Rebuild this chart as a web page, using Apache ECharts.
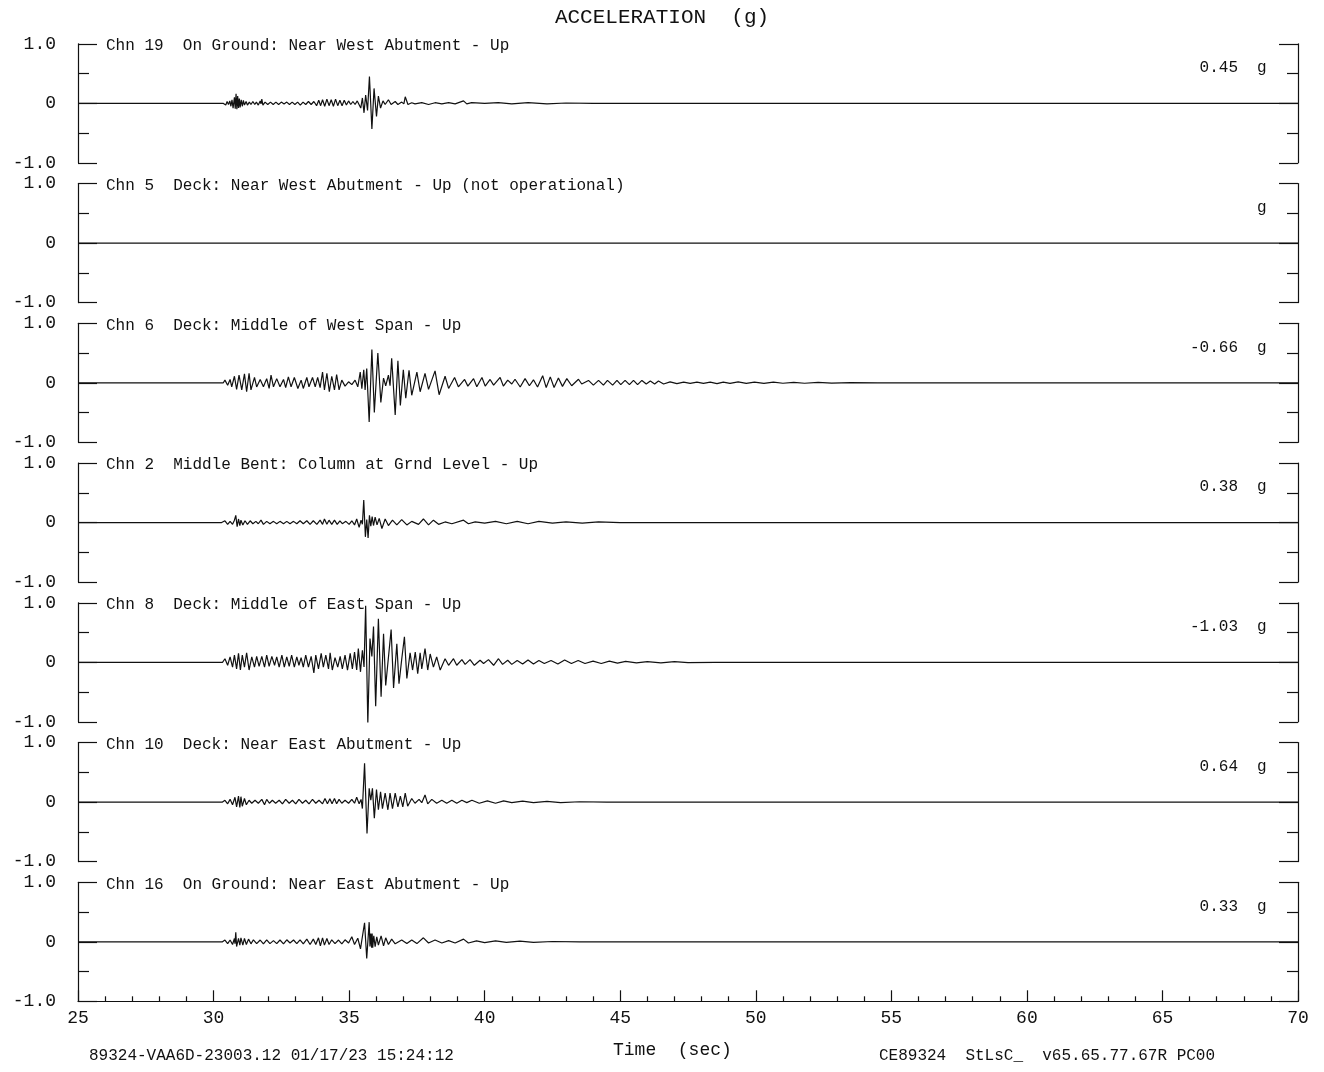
<!DOCTYPE html>
<html><head><meta charset="utf-8">
<script src="https://cdn.jsdelivr.net/npm/echarts@6/dist/echarts.min.js"></script>
<style>html,body{margin:0;padding:0;background:#fff}#c{width:1324px;height:1072px}</style>
</head><body><div id="c"></div><script>
const titleText = 'ACCELERATION  (g)';
const xAxisName = 'Time  (sec)';
const footerLeft = '89324-VAA6D-23003.12 01/17/23 15:24:12';
const footerRight = 'CE89324  StLsC_  v65.65.77.67R PC00';
const xMin = 25, xMax = 70, xStep = 5;
const channelLabels = [
  'Chn 19  On Ground: Near West Abutment - Up',
  'Chn 5  Deck: Near West Abutment - Up (not operational)',
  'Chn 6  Deck: Middle of West Span - Up',
  'Chn 2  Middle Bent: Column at Grnd Level - Up',
  'Chn 8  Deck: Middle of East Span - Up',
  'Chn 10  Deck: Near East Abutment - Up',
  'Chn 16  On Ground: Near East Abutment - Up'
];
const peakLabels = ['0.45', '', '-0.66', '0.38', '-1.03', '0.64', '0.33'];

const chn19 = [[25,0],[30.35,0],[30.40,0.02],[30.45,-0.03],[30.50,0.03],[30.55,-0.02],[30.60,0.04],[30.64,-0.05],[30.68,0.06],[30.72,-0.08],[30.77,0.10],[30.80,-0.09],[30.83,0.16],[30.86,-0.10],[30.89,0.12],[30.92,-0.08],[30.95,0.08],[30.98,-0.07],[31.02,0.06],[31.06,-0.05],[31.10,0.05],[31.14,-0.03],[31.20,0.03],[31.25,-0.03],[31.32,0.02],[31.38,-0.02],[31.45,0.03],[31.52,-0.02],[31.58,0.02],[31.65,-0.03],[31.72,0.04],[31.75,-0.01],[31.78,0.07],[31.82,-0.03],[31.90,0.02],[32.00,-0.02],[32.10,0.02],[32.20,-0.02],[32.30,0.02],[32.40,-0.02],[32.50,0.02],[32.60,-0.01],[32.70,0.02],[32.80,-0.02],[32.90,0.02],[33.00,-0.02],[33.10,0.02],[33.20,-0.03],[33.30,0.02],[33.40,-0.02],[33.50,0.03],[33.60,-0.02],[33.70,0.03],[33.80,-0.04],[33.88,0.05],[33.95,-0.04],[34.02,0.06],[34.10,-0.05],[34.18,0.07],[34.26,-0.04],[34.34,0.06],[34.42,-0.05],[34.50,0.07],[34.58,-0.04],[34.66,0.05],[34.74,-0.04],[34.82,0.05],[34.90,-0.03],[34.98,0.04],[35.06,-0.02],[35.14,0.03],[35.22,-0.02],[35.30,0.04],[35.43,-0.08],[35.49,0.09],[35.55,-0.16],[35.61,0.14],[35.68,-0.12],[35.75,0.45],[35.84,-0.43],[35.92,0.25],[36.01,-0.22],[36.08,0.12],[36.16,-0.08],[36.25,0.04],[36.33,-0.02],[36.45,0.06],[36.55,-0.02],[36.70,0.03],[36.80,-0.02],[36.94,0.02],[37.02,-0.01],[37.07,0.11],[37.17,-0.02],[37.31,0.01],[37.43,-0.01],[37.68,0.01],[37.93,-0.02],[38.17,0.01],[38.42,-0.01],[38.67,0.01],[38.91,-0.01],[39.22,0.04],[39.34,-0.01],[39.52,0.01],[40.0,0],[40.5,0.01],[41.0,-0.01],[41.6,0.01],[42.3,-0.01],[43.0,0.005],[44.0,0],[70,0]];

const chn5 = [[25,0],[70,0]];

const chn6 = [[25,0],[30.36,0],[30.42,0.045],[30.52,-0.04],[30.61,0.056],[30.67,-0.067],[30.77,0.11],[30.85,-0.11],[30.94,0.13],[31.04,-0.12],[31.14,0.15],[31.22,-0.15],[31.31,0.16],[31.38,-0.12],[31.51,0.09],[31.59,-0.07],[31.72,0.056],[31.84,-0.067],[31.96,0.07],[32.05,-0.095],[32.12,0.13],[32.21,-0.067],[32.33,0.07],[32.45,-0.067],[32.58,0.056],[32.66,-0.08],[32.76,0.10],[32.86,-0.067],[32.98,0.09],[33.11,-0.095],[33.23,0.045],[33.31,-0.095],[33.44,0.09],[33.52,-0.067],[33.65,0.09],[33.75,-0.067],[33.84,0.09],[33.93,-0.08],[34.02,0.18],[34.09,-0.12],[34.18,0.16],[34.27,-0.15],[34.36,0.11],[34.46,-0.12],[34.54,0.14],[34.63,-0.12],[34.73,0.045],[34.85,-0.056],[34.98,0.017],[35.10,-0.03],[35.22,0.045],[35.32,-0.067],[35.41,0.18],[35.47,-0.10],[35.54,0.22],[35.59,-0.12],[35.65,0.24],[35.74,-0.66],[35.84,0.56],[35.93,-0.50],[36.06,0.50],[36.17,-0.33],[36.27,0.08],[36.35,-0.05],[36.45,0.13],[36.51,-0.05],[36.57,0.41],[36.70,-0.54],[36.80,0.37],[36.89,-0.38],[37.00,0.22],[37.09,-0.26],[37.21,0.21],[37.31,-0.21],[37.50,0.18],[37.62,-0.15],[37.80,0.16],[37.93,-0.11],[38.17,0.20],[38.32,-0.20],[38.54,0.11],[38.67,-0.095],[38.89,0.09],[39.03,-0.067],[39.26,0.056],[39.38,-0.056],[39.59,0.07],[39.71,-0.067],[39.90,0.09],[40.02,-0.056],[40.20,0.056],[40.33,-0.04],[40.57,0.09],[40.69,-0.056],[40.85,0.045],[41.00,-0.02],[41.12,0.06],[41.31,-0.07],[41.49,0.07],[41.65,-0.05],[41.80,0.05],[41.95,-0.07],[42.14,0.12],[42.27,-0.08],[42.42,0.10],[42.56,-0.08],[42.72,0.08],[42.87,-0.06],[43.03,0.07],[43.21,-0.05],[43.46,0.06],[43.58,-0.02],[43.83,0.04],[44.01,-0.04],[44.20,0.04],[44.38,-0.04],[44.53,0.04],[44.72,-0.04],[44.88,0.04],[45.02,-0.03],[45.18,0.04],[45.34,-0.03],[45.49,0.04],[45.64,-0.03],[45.80,0.04],[45.96,-0.02],[46.11,0.03],[46.27,-0.02],[46.41,0.03],[46.60,-0.02],[46.84,0.015],[47.09,-0.015],[47.34,0.01],[47.58,-0.01],[47.83,0.012],[48.07,-0.01],[48.32,0.01],[48.57,-0.015],[48.80,0.01],[49.05,-0.01],[49.35,0.015],[49.65,-0.01],[49.95,0.01],[50.3,-0.01],[50.65,0.01],[51.0,-0.008],[51.4,0.008],[51.8,-0.008],[52.3,0.006],[52.8,-0.006],[53.5,0.004],[54.5,0],[70,0]];

const chn2 = [[25,0],[30.30,0],[30.42,0.03],[30.52,-0.03],[30.61,0.02],[30.70,-0.03],[30.77,0.04],[30.82,0.12],[30.87,-0.07],[30.92,0.06],[30.97,-0.05],[31.01,0.04],[31.08,-0.04],[31.16,0.03],[31.25,-0.03],[31.35,0.03],[31.45,-0.02],[31.56,0.02],[31.65,-0.02],[31.75,0.04],[31.84,-0.03],[31.96,0.02],[32.08,-0.02],[32.21,0.02],[32.33,-0.02],[32.45,0.02],[32.58,-0.02],[32.70,0.02],[32.82,-0.02],[32.95,0.02],[33.07,-0.02],[33.19,0.03],[33.31,-0.02],[33.44,0.03],[33.56,-0.03],[33.68,0.03],[33.81,-0.03],[33.93,0.04],[34.02,-0.03],[34.09,0.06],[34.18,-0.03],[34.26,0.04],[34.36,-0.03],[34.46,0.04],[34.56,-0.03],[34.66,0.03],[34.75,-0.02],[34.88,0.02],[35.00,-0.03],[35.10,0.03],[35.20,-0.04],[35.28,0.06],[35.37,-0.08],[35.44,0.04],[35.49,-0.03],[35.54,0.38],[35.60,-0.24],[35.65,0.05],[35.70,-0.26],[35.75,0.12],[35.80,-0.06],[35.85,0.10],[35.90,-0.05],[35.96,0.09],[36.03,-0.04],[36.11,0.07],[36.21,-0.10],[36.33,0.06],[36.45,-0.05],[36.60,0.04],[36.76,-0.04],[36.94,0.05],[37.13,-0.04],[37.31,0.02],[37.56,-0.03],[37.74,0.06],[37.93,-0.04],[38.11,0.04],[38.30,-0.03],[38.54,0.01],[38.79,-0.02],[39.22,0.04],[39.40,-0.02],[39.65,0.01],[40.0,-0.01],[40.4,0.02],[40.8,-0.02],[41.2,0.02],[41.6,-0.02],[42.0,0.02],[42.5,-0.01],[43.0,0.01],[43.6,-0.01],[44.2,0.01],[45.0,0],[70,0]];

const chn8 = [[25,0],[30.33,0],[30.42,0.06],[30.52,-0.05],[30.61,0.09],[30.70,-0.08],[30.77,0.12],[30.85,-0.11],[30.92,0.15],[30.99,-0.13],[31.06,0.12],[31.14,-0.08],[31.22,0.16],[31.31,-0.13],[31.41,0.09],[31.51,-0.08],[31.59,0.10],[31.68,-0.07],[31.78,0.10],[31.88,-0.08],[31.96,0.12],[32.05,-0.07],[32.15,0.10],[32.25,-0.05],[32.33,0.09],[32.42,-0.08],[32.52,0.12],[32.61,-0.08],[32.70,0.09],[32.79,-0.07],[32.88,0.12],[32.98,-0.08],[33.07,0.09],[33.15,-0.05],[33.23,0.08],[33.31,-0.08],[33.40,0.12],[33.50,-0.08],[33.60,0.10],[33.70,-0.18],[33.77,0.12],[33.87,-0.11],[33.97,0.15],[34.05,-0.08],[34.14,0.12],[34.24,-0.11],[34.30,0.16],[34.38,-0.13],[34.48,0.08],[34.58,-0.08],[34.67,0.10],[34.75,-0.11],[34.85,0.12],[34.94,-0.13],[35.04,0.15],[35.12,-0.11],[35.20,0.17],[35.28,-0.13],[35.34,0.23],[35.42,-0.16],[35.49,0.20],[35.55,-0.08],[35.61,0.95],[35.69,-1.03],[35.77,0.40],[35.84,0.10],[35.90,0.60],[35.98,-0.74],[36.08,0.73],[36.18,-0.58],[36.27,0.48],[36.35,-0.39],[36.55,0.55],[36.64,-0.43],[36.76,0.31],[36.84,-0.36],[36.94,0.05],[37.04,0.43],[37.13,-0.27],[37.25,0.16],[37.34,-0.13],[37.44,0.17],[37.53,-0.19],[37.62,0.16],[37.68,-0.11],[37.80,0.23],[37.90,-0.13],[37.99,0.14],[38.11,-0.08],[38.23,0.09],[38.36,-0.13],[38.54,0.06],[38.67,-0.05],[38.85,0.06],[38.97,-0.05],[39.16,0.045],[39.28,-0.035],[39.46,0.045],[39.62,-0.05],[39.83,0.035],[39.96,-0.02],[40.14,0.045],[40.33,-0.05],[40.51,0.06],[40.66,-0.035],[40.85,0.035],[41.00,-0.035],[41.2,0.03],[41.4,-0.03],[41.6,0.04],[41.8,-0.03],[42.0,0.03],[42.2,-0.02],[42.45,0.03],[42.7,-0.03],[42.95,0.04],[43.2,-0.02],[43.45,0.03],[43.7,-0.02],[44.0,0.02],[44.3,-0.02],[44.6,0.02],[44.9,-0.015],[45.2,0.015],[45.6,-0.01],[46.0,0.01],[46.5,-0.01],[47.0,0.01],[47.5,-0.005],[48.5,0],[70,0]];

const chn10 = [[25,0],[30.33,0],[30.42,0.03],[30.52,-0.03],[30.61,0.045],[30.70,-0.045],[30.79,0.08],[30.85,-0.08],[30.92,0.10],[30.97,-0.09],[31.01,0.09],[31.06,-0.07],[31.14,0.06],[31.21,-0.045],[31.31,0.03],[31.41,-0.02],[31.53,0.03],[31.65,-0.02],[31.78,0.045],[31.88,-0.045],[31.96,0.045],[32.06,-0.02],[32.17,0.03],[32.29,-0.02],[32.42,0.03],[32.54,-0.03],[32.66,0.045],[32.79,-0.02],[32.91,0.03],[33.03,-0.03],[33.15,0.045],[33.28,-0.02],[33.40,0.03],[33.52,-0.03],[33.65,0.045],[33.77,-0.02],[33.89,0.03],[34.02,-0.03],[34.11,0.06],[34.20,-0.03],[34.29,0.056],[34.37,-0.03],[34.46,0.06],[34.54,-0.03],[34.63,0.045],[34.73,-0.02],[34.85,0.03],[34.98,-0.02],[35.10,0.045],[35.20,-0.02],[35.28,0.08],[35.37,-0.03],[35.44,0.045],[35.49,-0.11],[35.57,0.65],[35.66,-0.53],[35.74,0.23],[35.80,0.03],[35.86,0.23],[35.93,-0.27],[36.01,0.21],[36.08,-0.13],[36.16,0.17],[36.23,-0.11],[36.33,0.15],[36.43,-0.13],[36.51,0.15],[36.60,-0.11],[36.70,0.15],[36.80,-0.08],[36.89,0.10],[36.98,-0.08],[37.07,0.15],[37.16,-0.07],[37.31,0.06],[37.43,-0.02],[37.58,0.045],[37.68,-0.01],[37.80,0.12],[37.90,-0.03],[38.05,0.045],[38.23,-0.02],[38.42,0.03],[38.60,-0.02],[38.79,0.03],[38.97,-0.02],[39.16,0.03],[39.34,-0.01],[39.53,0.03],[39.8,-0.02],[40.1,0.02],[40.4,-0.02],[40.7,0.02],[41.0,-0.01],[41.4,0.015],[41.8,-0.01],[42.3,0.01],[42.8,-0.01],[43.5,0.005],[44.5,0],[70,0]];

const chn16 = [[25,0],[30.33,0],[30.42,0.03],[30.52,-0.03],[30.61,0.03],[30.70,-0.045],[30.77,0.056],[30.79,-0.03],[30.82,0.16],[30.85,-0.08],[30.92,0.056],[30.97,-0.056],[31.01,0.067],[31.08,-0.056],[31.14,0.056],[31.21,-0.045],[31.29,0.045],[31.38,-0.034],[31.47,0.034],[31.59,-0.03],[31.72,0.03],[31.84,-0.034],[31.96,0.034],[32.08,-0.03],[32.21,0.02],[32.33,-0.03],[32.45,0.03],[32.58,-0.034],[32.70,0.034],[32.82,-0.02],[32.95,0.03],[33.07,-0.03],[33.19,0.034],[33.31,-0.034],[33.44,0.045],[33.56,-0.045],[33.68,0.045],[33.77,-0.045],[33.87,0.067],[33.94,-0.067],[34.02,0.067],[34.09,-0.056],[34.18,0.056],[34.26,-0.045],[34.36,0.034],[34.48,-0.03],[34.61,0.03],[34.73,-0.034],[34.85,0.034],[34.98,-0.02],[35.10,0.084],[35.20,-0.045],[35.32,0.06],[35.42,-0.12],[35.57,0.32],[35.65,-0.28],[35.74,0.33],[35.77,-0.08],[35.80,0.14],[35.83,-0.10],[35.85,0.14],[35.87,-0.10],[35.91,0.10],[35.96,-0.08],[36.02,0.084],[36.08,-0.056],[36.18,0.10],[36.27,-0.067],[36.35,0.067],[36.45,-0.045],[36.57,0.045],[36.70,-0.034],[36.94,0.03],[37.13,-0.03],[37.31,0.03],[37.50,-0.03],[37.74,0.067],[37.93,-0.02],[38.17,0.03],[38.42,-0.02],[38.67,0.02],[38.91,-0.02],[39.22,0.045],[39.40,-0.02],[39.7,0.015],[40.0,-0.015],[40.4,0.015],[40.8,-0.01],[41.3,0.01],[41.8,-0.01],[42.5,0.005],[43.5,0],[70,0]];

const traces = [chn19, chn5, chn6, chn2, chn8, chn10, chn16];

const FONT = 'Liberation Mono';
const INK = '#111';
const gridLeft = 78, gridWidth = 1220, firstTop = 43.8, pitch = 139.75, panelH = 119;
const n = traces.length;
const grids = [], xAxes = [], yAxes = [], series = [], graphics = [];

for (let k = 0; k < n; k++) {
  const top = firstTop + pitch * k;
  grids.push({ left: gridLeft, top: top, width: gridWidth, height: panelH });
  const last = k === n - 1;
  xAxes.push({
    type: 'value', gridIndex: k, min: xMin, max: xMax, interval: xStep,
    show: last,
    axisLine: { show: last, onZero: false, lineStyle: { color: INK, width: 1.2 } },
    axisTick: { show: last, inside: true, length: 11, lineStyle: { color: INK, width: 1.2 } },
    minorTick: { show: last, splitNumber: 5, length: 5, lineStyle: { color: INK, width: 1.2 } },
    axisLabel: { show: last, fontFamily: FONT, fontSize: 18, color: INK, margin: 8 },
    splitLine: { show: false }
  });
  const yCommon = {
    type: 'value', gridIndex: k, min: -1, max: 1, interval: 1,
    axisLine: { show: true, onZero: false, lineStyle: { color: INK, width: 1.2 } },
    axisTick: { show: true, inside: true, length: 19, lineStyle: { color: INK, width: 1.2 } },
    minorTick: { show: true, splitNumber: 2, length: 11, lineStyle: { color: INK, width: 1.2 } },
    splitLine: { show: false }
  };
  yAxes.push(Object.assign({}, yCommon, {
    position: 'left',
    axisLabel: { show: true, fontFamily: FONT, fontSize: 18, color: INK, margin: 22,
      formatter: v => v === 0 ? '0' : v.toFixed(1) }
  }));
  yAxes.push(Object.assign({}, yCommon, { position: 'right', axisLabel: { show: false } }));
  series.push({
    type: 'line', xAxisIndex: k, yAxisIndex: 2 * k, data: traces[k],
    showSymbol: false, symbol: 'none', smooth: false, sampling: null,
    lineStyle: { color: INK, width: 1.2 }, silent: true, animation: false
  });
  graphics.push({ type: 'text', left: 106, top: top - 6,
    style: { text: channelLabels[k], font: '16px "' + FONT + '"', fill: INK } });
  if (peakLabels[k]) {
    graphics.push({ type: 'text', right: 1324 - 1238, top: top + 16,
      style: { text: peakLabels[k], font: '16px "' + FONT + '"', fill: INK } });
  }
  graphics.push({ type: 'text', left: 1257, top: top + 16,
    style: { text: 'g', font: '16px "' + FONT + '"', fill: INK } });
}

graphics.push({ type: 'text', left: 'center', top: 7,
  style: { text: titleText, font: '21px "' + FONT + '"', fill: INK } });
graphics.push({ type: 'text', left: 613, top: 1041,
  style: { text: xAxisName, font: '18px "' + FONT + '"', fill: INK } });
graphics.push({ type: 'text', left: 89, top: 1048,
  style: { text: footerLeft, font: '16px "' + FONT + '"', fill: INK } });
graphics.push({ type: 'text', left: 879, top: 1048,
  style: { text: footerRight, font: '16px "' + FONT + '"', fill: INK } });

const chart = echarts.init(document.getElementById('c'), null, { renderer: 'canvas' });
chart.setOption({
  animation: false,
  backgroundColor: '#fff',
  grid: grids, xAxis: xAxes, yAxis: yAxes, series: series, graphic: graphics
});
</script></body></html>
